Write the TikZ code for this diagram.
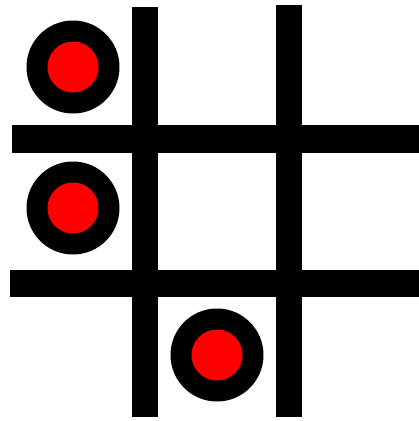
\documentclass[tikz,border=0pt]{standalone}
\begin{document}
\begin{tikzpicture}[x=1pt,y=-1pt,
  bar/.style={fill=black,draw=none},
  ring/.style={fill=black,draw=none},
  dot/.style={fill=red,draw=none}]
\useasboundingbox[fill=white] (0,0) rectangle (419,421);
% vertical bars
\fill[bar] (132,7) rectangle (158,417);
\fill[bar] (276,5) rectangle (302,417);
% horizontal bars
\fill[bar] (12,125) rectangle (419,153);
\fill[bar] (10,270) rectangle (419,297);
% pieces
\foreach \cx/\cy in {73/67, 73/208, 217/355}{
  \fill[ring] (\cx,\cy) circle[radius=46.5];
  \fill[dot] (\cx,\cy) circle[radius=25.5];
}
\end{tikzpicture}
\end{document}
